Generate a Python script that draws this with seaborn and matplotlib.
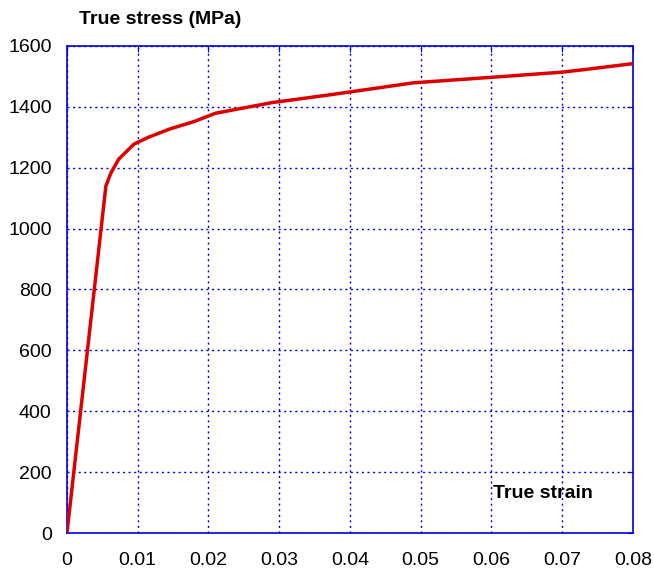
import pandas as pd
import seaborn as sns
import matplotlib.pyplot as plt

strain = [0.0, 0.0055, 0.0062, 0.0073, 0.0095, 0.0115, 0.0145, 0.018, 0.021,
          0.029, 0.037, 0.049, 0.060, 0.070, 0.073, 0.080]
stress = [0, 1140, 1182, 1228, 1278, 1300, 1327, 1352, 1379,
          1414, 1439, 1479, 1497, 1514, 1522, 1542]

x_ticks = [0, 0.01, 0.02, 0.03, 0.04, 0.05, 0.06, 0.07, 0.08]
x_labels = ['0', '0.01', '0.02', '0.03', '0.04', '0.05', '0.06', '0.07', '0.08']
y_ticks = [0, 200, 400, 600, 800, 1000, 1200, 1400, 1600]

sns.set_style("white")
plt.rcParams.update({
    "font.family": ["Liberation Sans", "DejaVu Sans"],
    "font.size": 14,
    "text.color": "black",
    "xtick.color": "black",
    "ytick.color": "black"})

df = pd.DataFrame({'strain': strain, 'stress': stress})

fig = plt.figure(figsize=(6.54, 5.71), dpi=100)
ax = fig.add_axes([0.1024, 0.0665, 0.8655, 0.853])
sns.lineplot(data=df, x='strain', y='stress', sort=False, color='#dd0000',
             linewidth=2.5, ax=ax, zorder=3)

ax.set_xlim(0, 0.08)
ax.set_ylim(0, 1600)
ax.set_xticks(x_ticks)
ax.set_xticklabels(x_labels)
ax.set_yticks(y_ticks)
ax.grid(True, color='#0000dd', linestyle=(0, (1.5, 2.5)), linewidth=1)
for s in ax.spines.values():
    s.set_color('#0000dd')
    s.set_linewidth(1.2)
ax.tick_params(axis='both', labelsize=14, direction='in', length=4,
               color='#0000dd', top=True, right=True)
ax.tick_params(axis='x', pad=14)
ax.tick_params(axis='y', pad=11)
ax.set_xlabel('')
ax.set_ylabel('')

fig.text(0.1215, 0.965, 'True stress (MPa)', fontsize=14, fontweight='bold',
         ha='left', va='center')
ax.text(0.0602, 131, 'True strain', fontsize=14, fontweight='bold',
        ha='left', va='center')

plt.savefig("out.png", dpi=100)
plt.close()
